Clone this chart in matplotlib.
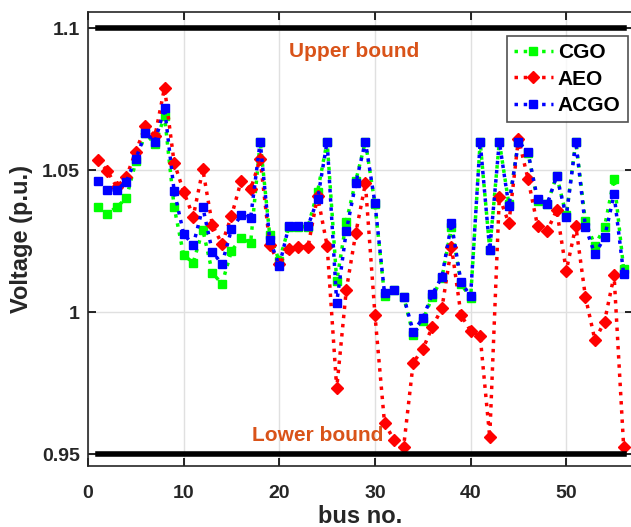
import numpy as np
import matplotlib
matplotlib.use('Agg')
import matplotlib.pyplot as plt

plt.rcParams['font.family'] = ['Liberation Sans', 'DejaVu Sans']
plt.rcParams['font.weight'] = 'bold'

bus = np.arange(1, 57)

cgo = [1.037, 1.0345, 1.037, 1.040, 1.053, 1.063, 1.059, 1.069, 1.037, 1.020,
       1.0174, 1.029, 1.0138, 1.0099, 1.0215, 1.026, 1.0244, 1.060, 1.027, 1.018,
       1.030, 1.030, 1.030, 1.0424, 1.060, 1.0109, 1.0318, 1.0463, 1.060, 1.038,
       1.0058, 1.0077, 1.0054, 0.9919, 0.997, 1.0054, 1.012, 1.030, 1.010, 1.0048,
       1.060, 1.022, 1.060, 1.038, 1.060, 1.056, 1.039, 1.038, 1.048, 1.034,
       1.060, 1.032, 1.0233, 1.030, 1.0468, 1.0151]
aeo = [1.0535, 1.0498, 1.044, 1.0476, 1.0565, 1.0655, 1.062, 1.079, 1.0526, 1.0424,
       1.0336, 1.0502, 1.0306, 1.024, 1.0338, 1.0461, 1.0432, 1.0538, 1.0236, 1.0168,
       1.0222, 1.023, 1.023, 1.0408, 1.0233, 0.9731, 1.0077, 1.0279, 1.0453, 0.9989,
       0.9608, 0.955, 0.9526, 0.9822, 0.9869, 0.9948, 1.0013, 1.023, 0.9989, 0.9934,
       0.9915, 0.9559, 1.0406, 1.0312, 1.061, 1.0469, 1.0303, 1.0285, 1.0359, 1.0145,
       1.0303, 1.0054, 0.9901, 0.9966, 1.0129, 0.9526]
acgo = [1.0462, 1.043, 1.043, 1.0459, 1.054, 1.063, 1.060, 1.0718, 1.0427, 1.0275,
        1.0236, 1.0369, 1.0212, 1.0169, 1.0291, 1.034, 1.0332, 1.060, 1.0254, 1.0163,
        1.0303, 1.0303, 1.0303, 1.0397, 1.060, 1.0033, 1.0285, 1.0455, 1.060, 1.0383,
        1.0066, 1.0077, 1.0054, 0.9931, 0.9978, 1.0063, 1.0124, 1.0312, 1.0104, 1.0057,
        1.060, 1.0218, 1.060, 1.0373, 1.060, 1.0562, 1.0397, 1.0379, 1.0479, 1.0336,
        1.060, 1.030, 1.0203, 1.0263, 1.0414, 1.0134]

upper, lower = 1.1, 0.95

fig = plt.figure(figsize=(6.31, 5.27), dpi=100)
ax = fig.add_axes([0.1395, 0.1157, 0.864, 0.8615])

ax.plot([1, 56], [upper, upper], color='black', lw=4, zorder=4)
ax.plot([1, 56], [lower, lower], color='black', lw=4, zorder=4)

ax.plot(bus, cgo, ':', color=(0, 1, 0), lw=2.5, marker='s', ms=6, label='CGO')
ax.plot(bus, aeo, ':', color=(1, 0, 0), lw=2.5, marker='D', ms=6, label='AEO')
ax.plot(bus, acgo, ':', color=(0, 0, 1), lw=2.5, marker='s', ms=6, label='ACGO')

ax.text(27.8, 1.0917, 'Upper bound', color='#D95319', fontsize=15, fontweight='bold', ha='center', va='center')
ax.text(24.0, 0.9565, 'Lower bound', color='#D95319', fontsize=15, fontweight='bold', ha='center', va='center')

ax.set_xlim(0, 57)
ax.set_ylim(0.94577, 1.10563)
ax.set_xticks([0, 10, 20, 30, 40, 50])
ax.set_yticks([0.95, 1.0, 1.05, 1.1])
ax.set_yticklabels(['0.95', '1', '1.05', '1.1'])
ax.tick_params(direction='in', top=True, right=True, labelsize=14, length=6, width=1.2)
ax.tick_params(axis='x', pad=14)
ax.tick_params(axis='y', pad=6)
for lab in ax.get_xticklabels() + ax.get_yticklabels():
    lab.set_fontweight('bold')
    lab.set_color('#262626')
ax.grid(True, color='#e0e0e0', lw=1)
ax.set_axisbelow(True)
for s in ax.spines.values():
    s.set_linewidth(1.2)
    s.set_color('#262626')

ax.set_xlabel('bus no.', fontsize=17, fontweight='bold', color='#262626', labelpad=2)
ax.set_ylabel('Voltage (p.u.)', fontsize=17, fontweight='bold', color='#262626', labelpad=6)

leg = ax.legend(loc='upper right', bbox_to_anchor=(0.995, 0.9317), bbox_transform=fig.transFigure,
                fontsize=15, frameon=True, fancybox=False, edgecolor='#262626',
                handlelength=1.85, handletextpad=0.25, borderpad=0.35, labelspacing=0.35,
                borderaxespad=0)
leg.get_frame().set_linewidth(1.2)
for t in leg.get_texts():
    t.set_fontweight('bold')

fig.savefig('out.png', dpi=100)
